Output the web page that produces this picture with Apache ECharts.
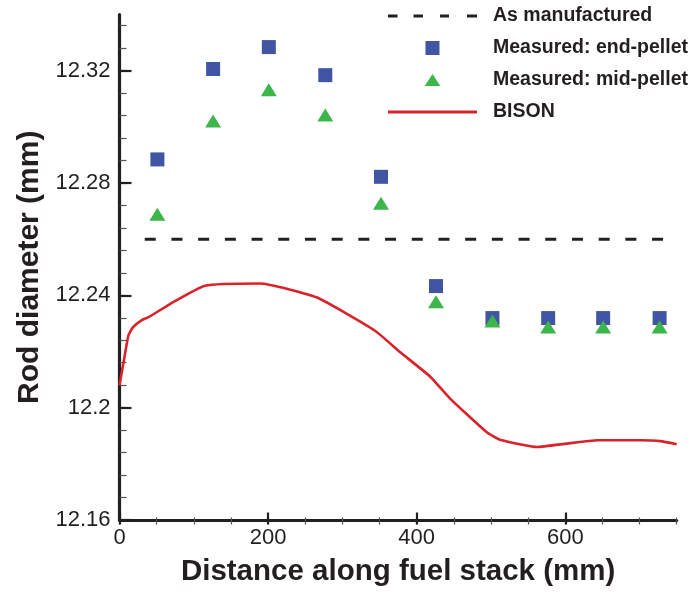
<!DOCTYPE html>
<html>
<head>
<meta charset="utf-8">
<script src="https://cdn.jsdelivr.net/npm/echarts@6/dist/echarts.min.js"></script>
<style>
html,body{margin:0;padding:0;background:#fff;}
#chart{width:693px;height:592px;}
</style>
</head>
<body>
<div id="chart"></div>
<script>
// ---- data ----
var measuredX = [51, 126, 201, 277, 352, 426, 502, 577, 651, 727];
var endPellet = [12.2884, 12.3206, 12.3284, 12.3184, 12.2822, 12.2433, 12.2319, 12.2319, 12.2319, 12.2319];
var midPellet = [12.2689, 12.3021, 12.3132, 12.3042, 12.2728, 12.2377, 12.2309, 12.2287, 12.2287, 12.2287];
var bisonX = [0, 6, 12, 18, 30, 39, 68, 115, 189, 265, 344, 378, 418, 445, 494, 512, 562, 602, 643, 701, 728, 750];
var bisonY = [12.208, 12.217, 12.2257, 12.2286, 12.2312, 12.2322, 12.2369, 12.2434, 12.2442, 12.2393, 12.2274, 12.2197, 12.2111, 12.2032, 12.1913, 12.1886, 12.186, 12.1872, 12.1884, 12.1884, 12.1881, 12.187];
var asManufacturedX = [34, 750];
var asManufacturedY = [12.26, 12.26];
var xMajorTicks = [0, 200, 400, 600];
var yMajorTicks = [12.16, 12.2, 12.24, 12.28, 12.32];
var seriesNames = ['As manufactured', 'Measured: end-pellet', 'Measured: mid-pellet', 'BISON'];

function zip(a, b) { return a.map(function (v, i) { return [v, b[i]]; }); }
var yMinorTicks = [];
for (var k = 0; k <= 22; k++) yMinorTicks.push(Math.round((12.16 + 0.008 * k) * 1000) / 1000);
var xMinorTicks = [];
for (var j = 0; j <= 15; j++) xMinorTicks.push(50 * j);

var ink = '#231f20';
var blue = '#4155a5';
var green = '#3cb54a';
var red = '#d9222a';
var font = '"Liberation Sans", Arial, Helvetica, sans-serif';

var W = 693, H = 592;
var G = { left: 119.5, right: 16.3, top: 14.5, bottom: 67.5 };
var gridW = W - G.left - G.right;
var gridH = H - G.top - G.bottom;

var box = 'M0,0M100,14';
var dashIcon = 'path://' + box + 'M0,5.5h9.5v3h-9.5Z M25.5,5.5h9.5v3h-9.5Z M52,5.5h9v3h-9Z M79,5.5h10v3h-10Z';
var squareIcon = 'path://' + box + 'M37.5,0h14v14h-14Z';
var triIcon = 'path://' + box + 'M44.5,1L52.3,13H36.7Z';
var lineIcon = 'path://' + box + 'M0,5.6h89v2.8h-89Z';

// helper axes that only draw tick marks, placed on the far side and shifted onto the plot edge
function tickAxis(dim, ticks, len, width, color) {
  var ax = {
    type: 'value', gridIndex: 0,
    axisLine: { show: false, onZero: false },
    axisTick: { show: true, inside: false, length: len, customValues: ticks, lineStyle: { color: color, width: width } },
    axisLabel: { show: false },
    splitLine: { show: false }
  };
  if (dim === 'x') { ax.min = 0; ax.max = 750; ax.interval = 50; ax.position = 'top'; ax.offset = -gridH; }
  else { ax.min = 12.16; ax.max = 12.34; ax.interval = 0.008; ax.position = 'right'; ax.offset = -gridW; }
  return ax;
}

var chart = echarts.init(document.getElementById('chart'), null, { renderer: 'canvas' });
chart.setOption({
  animation: false,
  backgroundColor: '#fff',
  textStyle: { fontFamily: font },
  grid: { left: G.left, right: G.right, top: G.top, bottom: G.bottom, containLabel: false },
  legend: {
    orient: 'vertical', left: 388, top: 6, padding: 0,
    itemWidth: 100, itemHeight: 14, itemGap: 12,
    selectedMode: false,
    textStyle: { fontFamily: font, fontSize: 19.5, fontWeight: 'bold', color: ink, lineHeight: 20 },
    itemStyle: { borderWidth: 0 },
    data: [
      { name: seriesNames[0], icon: dashIcon, itemStyle: { color: ink, borderWidth: 0, opacity: 1 } },
      { name: seriesNames[1], icon: squareIcon, itemStyle: { color: blue, borderWidth: 0, opacity: 1 } },
      { name: seriesNames[2], icon: triIcon, itemStyle: { color: green, borderWidth: 0, opacity: 1 } },
      { name: seriesNames[3], icon: lineIcon, itemStyle: { color: red, borderWidth: 0, opacity: 1 } }
    ]
  },
  xAxis: [{
    type: 'value', min: 0, max: 750, interval: 200, position: 'bottom',
    name: 'Distance along fuel stack (mm)', nameLocation: 'middle', nameGap: 37,
    nameTextStyle: { fontFamily: font, fontSize: 29.5, fontWeight: 'bold', color: ink },
    axisLine: { show: true, onZero: false, lineStyle: { color: ink, width: 3.2 } },
    axisTick: { show: false },
    axisLabel: { show: true, customValues: xMajorTicks, fontFamily: font, fontSize: 22, color: ink, margin: 7 },
    splitLine: { show: false }
  },
    tickAxis('x', xMinorTicks, 7, 1.2, '#555'),
    tickAxis('x', xMajorTicks, 12, 2.2, ink)
  ],
  yAxis: [{
    type: 'value', min: 12.16, max: 12.34, interval: 0.04, position: 'left',
    name: 'Rod diameter (mm)', nameLocation: 'middle', nameGap: 74,
    nameTextStyle: { fontFamily: font, fontSize: 30, fontWeight: 'bold', color: ink },
    axisLine: { show: true, onZero: false, lineStyle: { color: ink, width: 3.2 } },
    axisTick: { show: false },
    axisLabel: { show: true, customValues: yMajorTicks, fontFamily: font, fontSize: 22, color: ink, margin: 9 },
    splitLine: { show: false }
  },
    tickAxis('y', yMinorTicks, 7, 1.2, '#555'),
    tickAxis('y', yMajorTicks, 12, 2.2, ink)
  ],
  series: [{
    name: seriesNames[0], type: 'line', data: zip(asManufacturedX, asManufacturedY),
    symbol: 'none', color: ink,
    lineStyle: { color: ink, width: 3, type: [11, 15.7] }, z: 2
  }, {
    name: seriesNames[3], type: 'line', data: zip(bisonX, bisonY),
    symbol: 'none', color: red, smooth: 0.15,
    lineStyle: { color: red, width: 2.6 }, z: 3
  }, {
    name: seriesNames[1], type: 'scatter', data: zip(measuredX, endPellet),
    symbol: 'rect', symbolSize: 14, itemStyle: { color: blue, opacity: 1 }, z: 4
  }, {
    name: seriesNames[2], type: 'scatter', data: zip(measuredX, midPellet),
    symbol: 'triangle', symbolSize: [16, 13], itemStyle: { color: green, opacity: 1 }, z: 5
  }]
});
</script>
</body>
</html>
